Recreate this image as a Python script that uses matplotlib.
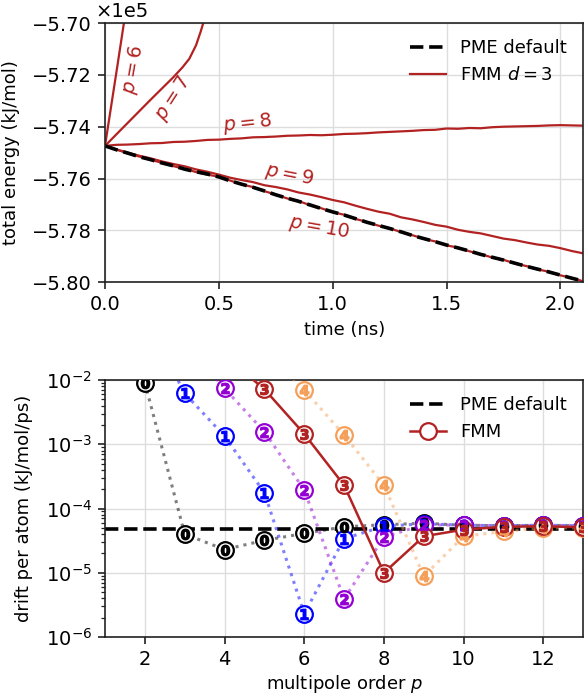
import numpy as np
import matplotlib
matplotlib.use("Agg")
import matplotlib.pyplot as plt
from matplotlib.lines import Line2D

# ---- top panel: total energy vs time (kJ/mol) ----
time = [0.00, 0.05, 0.10, 0.15, 0.20, 0.25, 0.30, 0.35, 0.40, 0.45, 0.50,
        0.55, 0.60, 0.65, 0.70, 0.75, 0.80, 0.85, 0.90, 0.95, 1.00, 1.05,
        1.10, 1.15, 1.20, 1.25, 1.30, 1.35, 1.40, 1.45, 1.50, 1.55, 1.60,
        1.65, 1.70, 1.75, 1.80, 1.85, 1.90, 1.95, 2.00, 2.05, 2.10]
energy_pme = [-574740, -574890, -575020, -575160, -575270, -575400, -575510,
              -575640, -575740, -575830, -575940, -576090, -576220, -576340,
              -576480, -576630, -576760, -576880, -577020, -577160, -577290,
              -577410, -577550, -577690, -577810, -577930, -578060, -578200,
              -578320, -578440, -578570, -578680, -578800, -578930, -579040,
              -579150, -579270, -579390, -579500, -579610, -579730, -579850,
              -579960]
energy_p10 = [-574740, -574880, -575030, -575150, -575280, -575390, -575520,
              -575630, -575750, -575850, -575930, -576080, -576230, -576330,
              -576490, -576620, -576770, -576870, -577030, -577150, -577300,
              -577400, -577560, -577680, -577820, -577920, -578070, -578190,
              -578330, -578430, -578580, -578670, -578810, -578920, -579050,
              -579140, -579280, -579380, -579510, -579600, -579740, -579840,
              -579970]
energy_p9 = [-574740, -574880, -575000, -575120, -575220, -575340, -575440,
             -575530, -575650, -575740, -575850, -575970, -576060, -576140,
             -576260, -576330, -576420, -576540, -576620, -576720, -576830,
             -576920, -577050, -577170, -577280, -577360, -577500, -577580,
             -577680, -577790, -577860, -577980, -578060, -578120, -578220,
             -578320, -578380, -578470, -578550, -578600, -578690, -578800,
             -578890]
energy_p8 = [-574740, -574700, -574690, -574670, -574640, -574630, -574590,
             -574580, -574550, -574510, -574500, -574470, -574450, -574410,
             -574400, -574380, -574350, -574340, -574320, -574330, -574310,
             -574280, -574270, -574250, -574220, -574200, -574180, -574160,
             -574130, -574120, -574070, -574080, -574050, -574060, -574020,
             -574000, -573990, -573980, -573970, -573950, -573940, -573950,
             -573960]
time_p7 = [0.0, 0.1, 0.2, 0.3, 0.34, 0.37, 0.40, 0.42, 0.44, 0.47]
energy_p7 = [-574740, -573850, -572960, -572090, -571710, -571380, -570850,
             -570330, -569750, -568900]
time_p6 = [0.0, 0.05, 0.083, 0.12]
energy_p6 = [-574740, -571900, -570000, -567800]

# ---- bottom panel: drift per atom vs multipole order ----
orders = [2, 3, 4, 5, 6, 7, 8, 9, 10, 11, 12, 13]
drift_pme = 4.8e-5
drift = {
    0: [9.1e-3, 4.0e-5, 2.3e-5, 3.2e-5, 4.1e-5, 5.2e-5, 5.6e-5, 5.9e-5,
        5.5e-5, 5.4e-5, 5.5e-5, 5.4e-5],
    1: [1.0e-1, 6.2e-3, 1.34e-3, 1.76e-4, 2.3e-6, 3.4e-5, 5.3e-5, 5.8e-5,
        5.5e-5, 5.4e-5, 5.5e-5, 5.4e-5],
    2: [None, 4.0e-2, 7.4e-3, 1.57e-3, 1.94e-4, 3.9e-6, 3.6e-5, 5.6e-5,
        5.5e-5, 5.4e-5, 5.5e-5, 5.4e-5],
    3: [None, None, 2.4e-2, 7.2e-3, 1.45e-3, 2.3e-4, 1.0e-5, 3.7e-5,
        4.7e-5, 5.2e-5, 5.3e-5, 5.1e-5],
    4: [None, None, None, 3.0e-2, 7.0e-3, 1.4e-3, 2.3e-4, 8.9e-6,
        3.7e-5, 4.4e-5, 5.0e-5, 5.0e-5],
}
marker_colors = {0: "black", 1: "#0000ff", 2: "#9400d3", 3: "#b22222", 4: "#f5a05a"}

red = "#b22222"
plt.rcParams["font.size"] = 13
plt.rcParams["xtick.labelsize"] = 14
plt.rcParams["ytick.labelsize"] = 14

fig = plt.figure(figsize=(5.85, 7.0), dpi=100)
ax1 = fig.add_axes([0.1795, 0.597, 0.8175, 0.370])
ax2 = fig.add_axes([0.1795, 0.090, 0.8175, 0.367])

for ax in (ax1, ax2):
    for s in ax.spines.values():
        s.set_color("#222222")
        s.set_linewidth(1.2)
    ax.grid(True, color="#dddddd", linewidth=1.0)
    ax.set_axisbelow(True)
    ax.tick_params(which="major", length=5, width=1.2, pad=4.5, color="#222222")
    ax.tick_params(which="minor", length=3, width=0.9, color="#222222")

# top panel
scale = 1e5
ax1.plot(time_p6, np.array(energy_p6) / scale, color=red, lw=1.6)
ax1.plot(time_p7, np.array(energy_p7) / scale, color=red, lw=1.6)
ax1.plot(time, np.array(energy_p8) / scale, color=red, lw=1.6)
ax1.plot(time, np.array(energy_p9) / scale, color=red, lw=1.6)
ax1.plot(time, np.array(energy_p10) / scale, color=red, lw=1.6)
ax1.plot(time, np.array(energy_pme) / scale, color="black", lw=2.6, ls="--")

ax1.set_xlim(0, 2.1)
ax1.set_ylim(-5.80, -5.70)
ax1.set_yticks([-5.80, -5.78, -5.76, -5.74, -5.72, -5.70])
ax1.set_yticklabels(["\u22125.80", "\u22125.78", "\u22125.76", "\u22125.74",
                     "\u22125.72", "\u22125.70"])
ax1.set_xticks([0.0, 0.5, 1.0, 1.5, 2.0])
ax1.set_xlabel("time (ns)", labelpad=5)
ax1.set_ylabel("total energy (kJ/mol)")
ax1.yaxis.set_label_coords(-0.178, 0.5)
ax1.text(-0.02, 1.01, "\u00d71e5", transform=ax1.transAxes, ha="left",
         va="bottom", fontsize=14)

labels = [(0.126, -5.7181, "$p = 6$", 80), (0.300, -5.7290, "$p = 7$", 57),
          (0.626, -5.7386, "$p = 8$", 6), (0.81, -5.7587, "$p = 9$", -11),
          (0.94, -5.7788, "$p = 10$", -10)]
for x, y, s, r in labels:
    ax1.text(x, y, s, color=red, rotation=r, ha="center", va="center",
             fontsize=14, rotation_mode="anchor")

h1 = [Line2D([], [], color="black", lw=2.6, ls="--"),
      Line2D([], [], color=red, lw=1.6)]
ax1.legend(h1, ["PME default", "FMM $d = 3$"], loc="upper right",
           frameon=False, fontsize=13)

# bottom panel
ax2.set_yscale("log")
ax2.axhline(drift_pme, color="black", lw=2.6, ls="--", zorder=2)
for d in [0, 1, 2, 4, 3]:
    vals = np.array([np.nan if v is None else v for v in drift[d]])
    c = marker_colors[d]
    if d == 3:
        ax2.plot(orders, vals, color=c, lw=1.8, zorder=3)
    else:
        ax2.plot(orders, vals, color=c, lw=2.2, ls=":", alpha=0.5, zorder=3)
    ax2.plot(orders, vals, ls="none", marker="o", ms=12, mfc="white",
             mec=c, mew=1.6, zorder=4)
    ax2.plot(orders, vals, ls="none", marker=r"$\mathbf{%d}$" % d, ms=7.5,
             color=c, zorder=5)

ax2.set_xlim(1, 13)
ax2.set_ylim(1e-6, 1e-2)
ax2.set_xticks([2, 4, 6, 8, 10, 12])
ax2.set_xlabel("multipole order $p$", labelpad=3)
ax2.set_ylabel("drift per atom (kJ/mol/ps)")
ax2.yaxis.set_label_coords(-0.151, 0.5)

h2 = [Line2D([], [], color="black", lw=2.6, ls="--"),
      Line2D([], [], color=red, lw=1.8, marker="o", ms=12, mfc="white",
             mec=red, mew=1.6)]
ax2.legend(h2, ["PME default", "FMM"], loc="upper right", frameon=False,
           fontsize=13)

fig.savefig("out.png", dpi=100)
